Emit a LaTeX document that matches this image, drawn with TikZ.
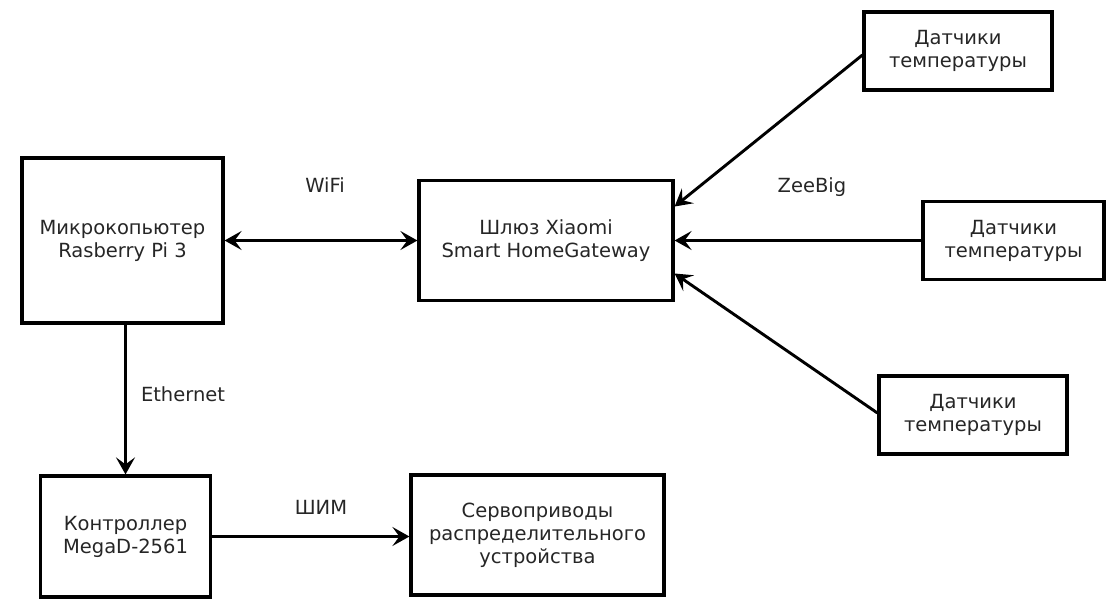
\documentclass[tikz,border=0pt]{standalone}
\usepackage{fontspec}
\setmainfont{DejaVu Sans}
\usetikzlibrary{arrows.meta}
\begin{document}
\begin{tikzpicture}[x=1pt,y=-1pt,
  every node/.style={font=\fontsize{19.5}{23}\selectfont, text=black!85},
  blockbox/.style={draw=black, line width=3.2pt, fill=white, align=center,
    inner sep=0pt},
  link/.style={line width=2.9pt, draw=black,
    -{Stealth[length=17pt,width=19pt,inset=7pt]}},
  biglink/.style={line width=2.9pt, draw=black,
    {Stealth[length=17pt,width=19pt,inset=7pt]}-{Stealth[length=17pt,width=19pt,inset=7pt]}},
  lbl/.style={inner sep=0pt}]
\useasboundingbox (0,0) rectangle (1109,599);

% blocks
\node[blockbox, minimum width=201pt, minimum height=165pt] (rpi) at (122.5,240.5)
  {Микрокопьютер\\Rasberry Pi 3};
\node[blockbox, minimum width=254pt, minimum height=120pt] (gw) at (546,240.5)
  {Шлюз Xiaomi\\Smart HomeGateway};
\node[blockbox, minimum width=188pt, minimum height=78pt] (s1) at (958,51)
  {Датчики\\температуры};
\node[blockbox, minimum width=181pt, minimum height=78pt] (s2) at (1013.5,240.5)
  {Датчики\\температуры};
\node[blockbox, minimum width=188pt, minimum height=78pt] (s3) at (973,415)
  {Датчики\\температуры};
\node[blockbox, minimum width=170pt, minimum height=121pt] (ctl) at (125.5,536.5)
  {Контроллер\\MegaD-2561};
\node[blockbox, minimum width=253pt, minimum height=120pt] (servo) at (537.5,535)
  {Сервоприводы\\распределительного\\устройства};

% connectors
\draw[biglink] (rpi.east) -- (gw.west);
\draw[link] (rpi.south -| ctl.north) -- (ctl.north);
\draw[link] (ctl.east) -- (ctl.east -| servo.west);
\draw[link] ([yshift=-4pt]s1.west) -- ([yshift=34pt]gw.east);
\draw[link] (s2.west) -- (gw.east);
\draw[link] ([yshift=2pt]s3.west) -- ([yshift=-33pt]gw.east);

% link labels
\node[lbl] (wifi) at (325,185) {WiFi};
\node[lbl] (zee) at (812,187) {ZeeBig};
\node[lbl] (eth) at (183,394) {Ethernet};
\node[lbl] (pwm) at (321,507) {ШИМ};
\end{tikzpicture}
\end{document}
